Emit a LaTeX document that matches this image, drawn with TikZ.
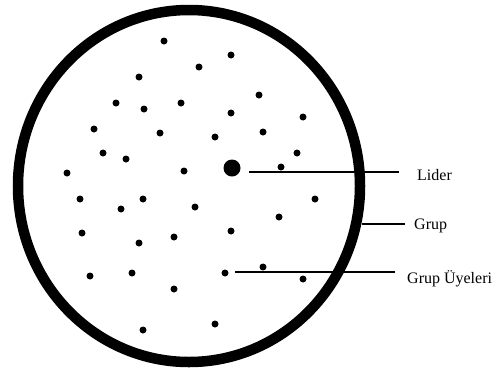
\documentclass[tikz,border=0pt]{standalone}
\usepackage{fontspec}
\setmainfont{Liberation Serif}
\usepackage{tikz}

\begin{document}
\begin{tikzpicture}[
    x=1pt, y=-1pt,
    nokta/.style={circle, fill=black, inner sep=0pt, minimum size=7pt},
    lidernokta/.style={circle, fill=black, inner sep=0pt, minimum size=17pt},
    sinir/.style={draw=black, line width=10.5pt},
    cizgi/.style={draw=black, line width=1.2pt},
    etiket/.style={anchor=base west, inner sep=0pt, font=\fontsize{16}{19}\selectfont}
]
\useasboundingbox (0,0) rectangle (494,370);

% Grup siniri
\draw[sinir] (189,186) ellipse [x radius=171pt, y radius=176pt];

% Grup uyeleri
\foreach \x/\y [count=\i] in {164/41, 231/55, 199/67, 139/77, 116/103, 144/109, 181/103,
    231/113, 259/95, 303/117, 94/129, 160/133, 215/137, 263/132, 297/153, 103/153,
    126/159, 184/171, 281/167, 67/173, 80/199, 143/199, 121/209, 195/207, 315/199,
    279/217, 82/233, 139/243, 174/237, 231/231, 90/276, 132/273, 263/267, 303/279,
    174/289, 143/330, 215/324}
  \node[nokta] (u\i) at (\x,\y) {};
\node[nokta] (uye) at (225,273) {};

% Lider
\node[lidernokta] (lider) at (232,168) {};

% Etiketler
\node[etiket] (liderYazi) at (417,180) {Lider};
\node[etiket] (grupYazi) at (414,229) {Grup};
\node[etiket] (uyeYazi) at (407,283) {Grup Üyeleri};

% Cizgiler
\coordinate (liderbas) at (249,172);
\coordinate (grupbas) at (362,224);
\coordinate (uyebas) at (235,272);
\draw[cizgi, shorten >=18pt] (liderbas) -- (liderbas -| liderYazi.west);
\draw[cizgi, shorten >=9pt] (grupbas) -- (grupbas -| grupYazi.west);
\draw[cizgi, shorten >=12pt] (uyebas) -- (uyebas -| uyeYazi.west);

\end{tikzpicture}
\end{document}
